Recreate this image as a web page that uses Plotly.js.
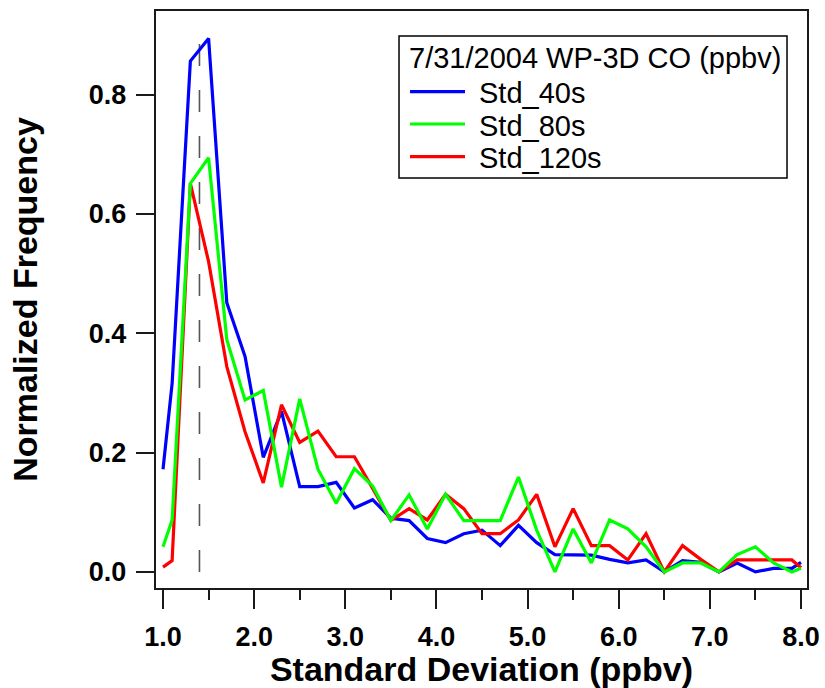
<!DOCTYPE html>
<html>
<head>
<meta charset="utf-8">
<script src="https://cdn.plot.ly/plotly-3.0.1.min.js"></script>
<style>
  html, body { margin: 0; padding: 0; background: #ffffff; }
  #chart { width: 825px; height: 688px; }
</style>
</head>
<body>
<div id="chart"></div>
<script>
// ---- Data ----
const stdDev = [1.0, 1.1, 1.3, 1.5, 1.7, 1.9, 2.1, 2.3, 2.5, 2.7, 2.9, 3.1, 3.3, 3.5, 3.7, 3.9,
  4.1, 4.3, 4.5, 4.7, 4.9, 5.1, 5.3, 5.5, 5.7, 5.9, 6.1, 6.3, 6.5, 6.7, 6.9, 7.1, 7.3, 7.5, 7.7, 7.9, 8.0];

const std40s = [0.172, 0.316, 0.856, 0.894, 0.451, 0.361, 0.192, 0.269, 0.143, 0.143, 0.150, 0.107, 0.121,
  0.090, 0.086, 0.056, 0.049, 0.064, 0.070, 0.044, 0.078, 0.049, 0.029, 0.029, 0.028, 0.021, 0.015, 0.020,
  0.000, 0.019, 0.016, 0.000, 0.015, 0.000, 0.006, 0.006, 0.016];

const std80s = [0.042, 0.087, 0.651, 0.694, 0.389, 0.288, 0.304, 0.142, 0.290, 0.172, 0.115, 0.173, 0.144,
  0.086, 0.129, 0.072, 0.130, 0.086, 0.086, 0.086, 0.159, 0.070, 0.000, 0.072, 0.015, 0.087, 0.072, 0.042,
  0.000, 0.015, 0.015, 0.000, 0.029, 0.042, 0.015, 0.000, 0.006];

const std120s = [0.008, 0.019, 0.651, 0.520, 0.344, 0.235, 0.149, 0.280, 0.217, 0.236, 0.193, 0.193, 0.140,
  0.086, 0.106, 0.087, 0.130, 0.106, 0.064, 0.064, 0.087, 0.130, 0.042, 0.106, 0.044, 0.044, 0.020, 0.064,
  0.000, 0.044, 0.021, 0.000, 0.020, 0.020, 0.020, 0.020, 0.007];

const seriesNames = ["Std_40s", "Std_80s", "Std_120s"];
const seriesColors = ["#0000ff", "#00ff00", "#ff0000"];
const legendTitle = "7/31/2004 WP-3D CO (ppbv)";

// reference (dashed) marker line
const refLineX = [1.4, 1.4];
const refLineY = [0.0, 0.9];

// ticks
const xTickVals = [1, 2, 3, 4, 5, 6, 7, 8];
const xTickText = ["1.0", "2.0", "3.0", "4.0", "5.0", "6.0", "7.0", "8.0"];
const xMinorTickVals = [1.5, 2.5, 3.5, 4.5, 5.5, 6.5, 7.5];
const yTickVals = [0, 0.2, 0.4, 0.6, 0.8];
const yTickText = ["0.0", "0.2", "0.4", "0.6", "0.8"];

// ---- Styling ----
const FONT = "Liberation Sans, Arial, Helvetica, sans-serif";
const AXIS_COLOR = "#1a1a1a";
const LINE_W = 3.2;

const traces = [
  {
    x: refLineX, y: refLineY, type: "scatter", mode: "lines",
    line: { color: "#555555", width: 1.6, dash: "22px,24px" },
    showlegend: false, hoverinfo: "skip"
  },
  {
    x: stdDev, y: std40s, name: seriesNames[0], type: "scatter", mode: "lines",
    line: { color: seriesColors[0], width: LINE_W }, showlegend: false
  },
  {
    x: stdDev, y: std120s, name: seriesNames[2], type: "scatter", mode: "lines",
    line: { color: seriesColors[2], width: LINE_W }, showlegend: false
  },
  {
    x: stdDev, y: std80s, name: seriesNames[1], type: "scatter", mode: "lines",
    line: { color: seriesColors[1], width: LINE_W }, showlegend: false
  }
];

// ---- Legend box (paper coordinates of the plot area) ----
const legBox = { x0: 0.3733, x1: 0.9693, y0: 0.7106, y1: 0.9567 };
const legTitlePos = { x: 0.3851, y: 0.9177 };
const legRowsY = [0.8601, 0.8042, 0.7475];
const legLineX = [0.3902, 0.4747];
const legTextX = 0.4931;
const LEG_FONT = 29;

const shapes = [
  { type: "rect", xref: "paper", yref: "paper", x0: legBox.x0, x1: legBox.x1, y0: legBox.y0, y1: legBox.y1,
    line: { color: "#000000", width: 1.5 }, fillcolor: "#ffffff", layer: "above" }
];
const annotations = [
  { xref: "paper", yref: "paper", x: legTitlePos.x, y: legTitlePos.y, xanchor: "left", yanchor: "middle",
    text: legendTitle, showarrow: false, font: { family: FONT, size: LEG_FONT, color: "#000000" } }
];
seriesNames.forEach((nm, i) => {
  shapes.push({ type: "line", xref: "paper", yref: "paper", x0: legLineX[0], x1: legLineX[1],
    y0: legRowsY[i], y1: legRowsY[i], line: { color: seriesColors[i], width: LINE_W }, layer: "above" });
  annotations.push({ xref: "paper", yref: "paper", x: legTextX, y: legRowsY[i] - 0.003, xanchor: "left", yanchor: "middle",
    text: nm, showarrow: false, font: { family: FONT, size: LEG_FONT, color: "#000000" } });
});

const layout = {
  width: 825,
  height: 688,
  margin: { l: 156, r: 18, t: 11, b: 100, pad: 0 },
  paper_bgcolor: "#ffffff",
  plot_bgcolor: "#ffffff",
  font: { family: FONT, color: "#000000" },
  showlegend: false,
  shapes: shapes,
  annotations: annotations,
  xaxis: {
    range: [0.923, 8.066],
    showgrid: false, zeroline: false,
    showline: true, linecolor: AXIS_COLOR, linewidth: 2.2, mirror: true,
    ticks: "outside", ticklen: 19, tickwidth: 2, tickcolor: AXIS_COLOR,
    tickmode: "array", tickvals: xTickVals, ticktext: xTickText,
    tickfont: { family: FONT, size: 27, weight: "bold", color: "#000000" },
    ticklabelstandoff: 4,
    minor: { tickmode: "array", tickvals: xMinorTickVals, ticks: "outside", ticklen: 10, tickwidth: 2, tickcolor: AXIS_COLOR, showgrid: false },
    title: { text: "Standard Deviation (ppbv)", font: { family: FONT, size: 34, weight: "bold", color: "#000000" }, standoff: 12 },
    automargin: false
  },
  yaxis: {
    range: [-0.027, 0.94],
    showgrid: false, zeroline: false,
    showline: true, linecolor: AXIS_COLOR, linewidth: 2.2, mirror: true,
    ticks: "outside", ticklen: 18, tickwidth: 2, tickcolor: AXIS_COLOR,
    tickmode: "array", tickvals: yTickVals, ticktext: yTickText,
    tickfont: { family: FONT, size: 27, weight: "bold", color: "#000000" },
    ticklabelstandoff: 4,
    title: { text: "Normalized Frequency", font: { family: FONT, size: 34, weight: "bold", color: "#000000" }, standoff: 41 },
    automargin: false
  }
};

Plotly.newPlot("chart", traces, layout, { staticPlot: true, displayModeBar: false });
</script>
</body>
</html>
